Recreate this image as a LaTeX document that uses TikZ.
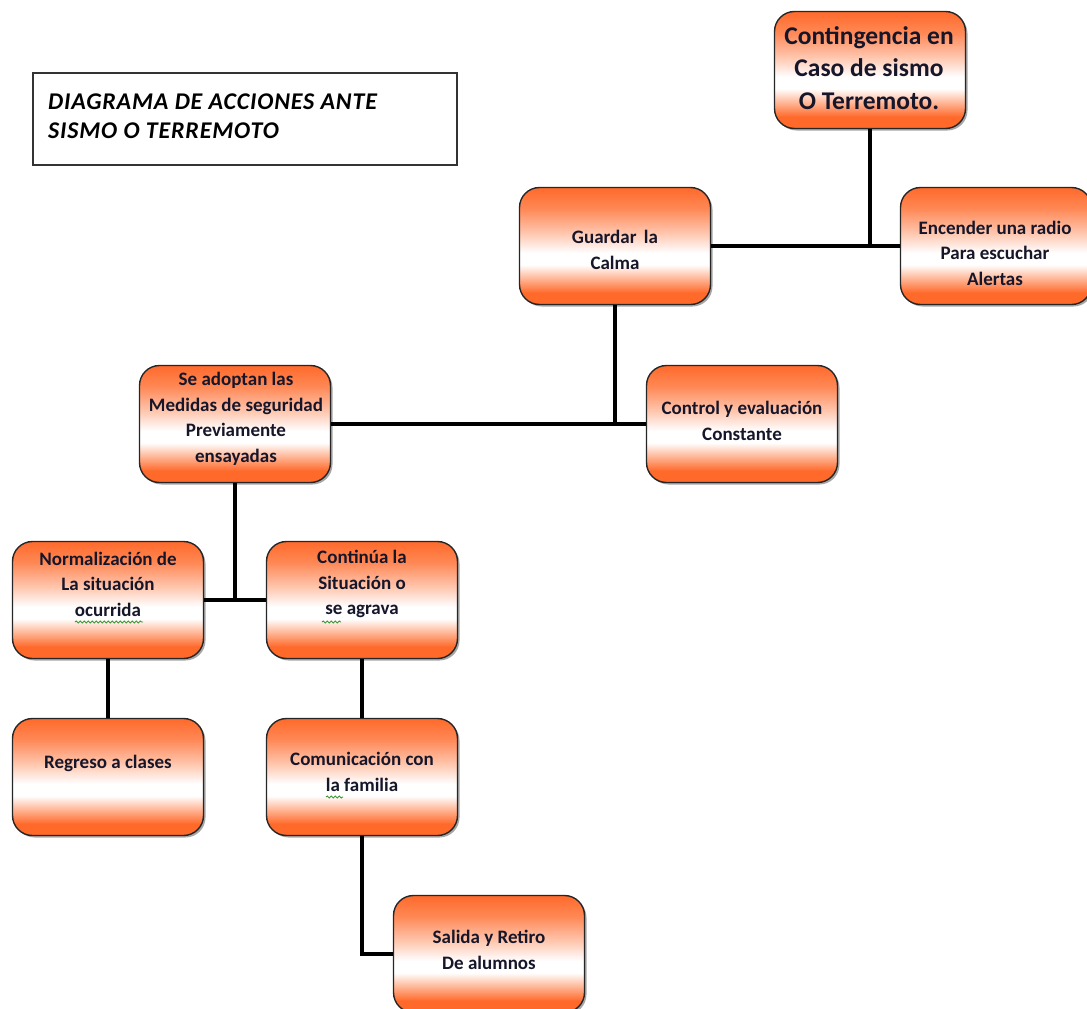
\documentclass[tikz,border=0pt]{standalone}
\usepackage{fontspec}
\setmainfont{Carlito}
\usetikzlibrary{shadows,decorations.pathmorphing}

\definecolor{boxorange}{HTML}{FF6A2B}
\definecolor{inktext}{HTML}{16162A}
\definecolor{spellgreen}{HTML}{3C9A3C}

% orange at the edges, fading to white a little below the middle
\pgfdeclareverticalshading{orangeband}{100bp}{
  color(0bp)=(boxorange); color(25bp)=(boxorange); color(30bp)=(boxorange);
  color(42bp)=(white); color(47bp)=(white);
  color(56bp)=(boxorange!40!white); color(66bp)=(boxorange!80!white);
  color(75bp)=(boxorange); color(100bp)=(boxorange)}

\tikzset{
  stepbox/.style={
    rectangle, rounded corners=20pt, draw=black!85, line width=1.4pt,
    minimum width=191pt, minimum height=117pt, inner sep=0pt,
    shading=orangeband,
    drop shadow={shadow xshift=2pt, shadow yshift=-2pt, opacity=0.35, fill=black}
  },
  boxtext/.style={
    align=center, text=inktext, inner sep=0pt,
    font=\fontsize{19}{25.5}\selectfont\bfseries
  },
  link/.style={line width=4pt, black},
  squiggle/.style={spellgreen, line width=0.9pt,
    decorate, decoration={snake, segment length=4pt, amplitude=1pt}}
}

\begin{document}
\begin{tikzpicture}[x=1pt, y=-1pt]
  \useasboundingbox (0,0) rectangle (1087,1009);
  \clip (0,0) rectangle (1087,1009);

  % title frame
  \node[draw=black!80, line width=1.8pt, minimum width=424pt, minimum height=92pt,
        inner sep=0pt] (title) at (245,119) {};
  \node[anchor=west, align=left, inner sep=0pt, text=black,
        font=\fontsize{24}{29}\selectfont\bfseries\itshape\addfontfeatures{LetterSpace=3.5}]
        (titletext) at (48,116)
        {DIAGRAMA DE ACCIONES ANTE\\SISMO O TERREMOTO};

  % boxes
  \node[stepbox] (cont) at (870,70)   {};
  \node[stepbox] (calma) at (615,246) {};
  \node[stepbox] (radio) at (996,246) {};
  \node[stepbox] (medidas) at (235,424) {};
  \node[stepbox] (control) at (742,424) {};
  \node[stepbox] (normal) at (108,600) {};
  \node[stepbox] (agrava) at (362,600) {};
  \node[stepbox] (clases) at (108,777) {};
  \node[stepbox] (familia) at (362,777) {};
  \node[stepbox] (salida) at (489,954) {};

  % box texts
  \node[boxtext, font=\fontsize{25.5}{32.5}\selectfont\bfseries] (conttext) at (869,68)
       {Contingencia en\\Caso de sismo\\O Terremoto.};
  \node[boxtext] (calmatext) at (615,250) {Guardar\, la\\Calma};
  \node[boxtext] (radiotext) at (995,253) {Encender una radio\\Para escuchar\\Alertas};
  \node[boxtext] (medidastext) at (236,419) {Se adoptan las\\Medidas de seguridad\\Previamente\\ensayadas};
  \node[boxtext] (controltext) at (742,421) {Control y evaluación\\Constante};
  \node[boxtext] (normaltext) at (108,584) {Normalización de\\La situación\\ocurrida};
  \node[boxtext] (agravatext) at (362,584) {Continúa la\\Situación o\\se agrava};
  \node[boxtext] (clasestext) at (108,763) {Regreso a clases};
  \node[boxtext] (familiatext) at (362,772) {Comunicación con\\la familia};
  \node[boxtext] (salidatext) at (489,950) {Salida y Retiro\\De alumnos};

  % spelling marks under words
  \draw[squiggle] (75,622) -- (143,622);
  \draw[squiggle] (322,622) -- (341,622);
  \draw[squiggle] (326,797) -- (343,797);

  % connectors
  \coordinate (j1) at (cont.south |- calma.east);
  \draw[link] (cont.south) -- (j1);
  \draw[link] (calma.east) -- (radio.west);

  \coordinate (j2) at (calma.south |- medidas.east);
  \draw[link] (calma.south) -- (j2);
  \draw[link] (medidas.east) -- (control.west);

  \coordinate (j3) at (medidas.south |- normal.east);
  \draw[link] (medidas.south) -- (j3);
  \draw[link] (normal.east) -- (agrava.west);

  \draw[link] (normal.south) -- (clases.north);
  \draw[link] (agrava.south) -- (familia.north);
  \draw[link] (familia.south) |- (salida.west);
\end{tikzpicture}
\end{document}
